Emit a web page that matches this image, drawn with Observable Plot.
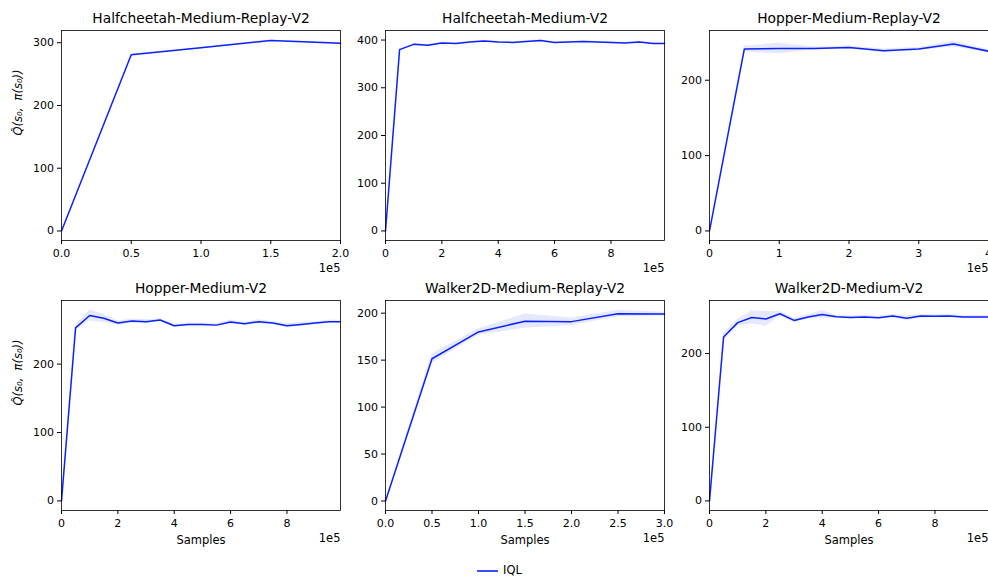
<!DOCTYPE html>
<html><head><meta charset="utf-8">
<script src="https://cdn.jsdelivr.net/npm/d3@7"></script>
<script src="https://cdn.jsdelivr.net/npm/@observablehq/plot@0.6"></script>
<style>
html,body{margin:0;padding:0;background:#fff;overflow:hidden}
#fig{position:relative;width:988px;height:577px;overflow:hidden;background:#fff;font-family:"DejaVu Sans",sans-serif}
.panel{position:absolute}
#legend{position:absolute;left:470px;top:565px;height:11px;line-height:11px;display:flex;align-items:center;font-size:11.5px;color:#000}
</style>
</head><body>
<div id="fig"><div id="legend"><svg width="30" height="11"><line x1="7" x2="28" y1="6" y2="6" stroke="#0a22ff" stroke-width="1.6"/></svg><span style="margin-left:3px">IQL</span></div></div>
<script>
// ---------- data (samples, mean Q estimate, half-width of shaded band) ----------
const titles = ["Halfcheetah-Medium-Replay-V2","Halfcheetah-Medium-V2","Hopper-Medium-Replay-V2",
                "Hopper-Medium-V2","Walker2D-Medium-Replay-V2","Walker2D-Medium-V2"];

const hcmrX = [0,50000,100000,150000,200000];
const hcmrY = [0,281,292,303.5,299];
const hcmrS = [0,1,1,1,1];

const hcmX = [0,50000,100000,150000,200000,250000,300000,350000,400000,450000,500000,550000,600000,650000,700000,750000,800000,850000,900000,950000,990000];
const hcmY = [0,380,391,389,394,393,396,398,396,395,397,399,395,396,397,396,395,394,396,393,393];
const hcmS = [0,2,2,2,1.5,1.5,1.5,1.5,1.5,1.5,1.5,1.5,1.5,1.5,1.5,1.5,1.5,1.5,1.5,1.5,1.5];

const hmrX = [0,50000,100000,150000,200000,250000,300000,350000,400000];
const hmrY = [0,241.5,242,242,243.5,239,241.5,248,238.5];
const hmrS = [0,4,7,2,2,2.5,2,4,2];

const hmX = [0,50000,100000,150000,200000,250000,300000,350000,400000,450000,500000,550000,600000,650000,700000,750000,800000,850000,900000,950000,990000];
const hmY = [0,253,271,267,260,263,262,264.5,256,258,258,257,261.5,259,262,260,256,258,260,262,262];
const hmS = [0,3,8,6,3,3,3,2,2,2,2,2,3,2,3,2,3,3,2,2,2];

const wmrX = [0,50000,100000,150000,200000,250000,300000];
const wmrY = [0,151.5,180,191.5,191,199.5,199];
const wmrS = [0,5,3.5,7.5,4,3.5,2];

const wmX = [0,50000,100000,150000,200000,250000,300000,350000,400000,450000,500000,550000,600000,650000,700000,750000,800000,850000,900000,950000,990000];
const wmY = [0,222.5,242,249,247,254,245,249.5,253,250,249,249.5,248.5,251,248,251,250.5,251,249.5,249.5,249.5];
const wmS = [0,5,4.5,9,10,3,3,3,5,2,2,2,2,2,3,2,2,2,2,2,2];

const xTicksA = [0,50000,100000,150000,200000];
const xTicksB = [0,200000,400000,600000,800000];
const xTicksC = [0,100000,200000,300000,400000];
const xTicksD = [0,50000,100000,150000,200000,250000,300000];
const yTicks1 = [0,100,200,300];
const yTicks2 = [0,100,200,300,400];
const yTicks3 = [0,100,200];
const yTicks5 = [0,50,100,150,200];

const yLabel = "Q\u0302(s\u2080,  \u03C0(s\u2080))";
const xLabel = "Samples";
const offsetLabel = "1e5";

// ---------- layout ----------
const BLUE = "#0a22ff";
const AX_W = 279, AX_H = 210;
const ML = 55, MR = 30, MT = 32, MB = 45;
const colLeft = [61, 384.5, 708.5];
const rowTop = [29.5, 300];

const fmt1 = d => (d/1e5).toFixed(1);
const fmt0 = d => String(d/1e5);

const panels = [
  {x:hcmrX,y:hcmrY,s:hcmrS,xmax:200000,ydom:[-15.2,319.5],xt:xTicksA,yt:yTicks1,xf:fmt1},
  {x:hcmX,y:hcmY,s:hcmS,xmax:990000,ydom:[-20,420],xt:xTicksB,yt:yTicks2,xf:fmt0},
  {x:hmrX,y:hmrY,s:hmrS,xmax:400000,ydom:[-12.7,266],xt:xTicksC,yt:yTicks3,xf:fmt0},
  {x:hmX,y:hmY,s:hmS,xmax:990000,ydom:[-14,293],xt:xTicksB,yt:yTicks3,xf:fmt0},
  {x:wmrX,y:wmrY,s:wmrS,xmax:300000,ydom:[-10.1,213.5],xt:xTicksD,yt:yTicks5,xf:fmt1},
  {x:wmX,y:wmY,s:wmS,xmax:990000,ydom:[-13,272],xt:xTicksB,yt:yTicks3,xf:fmt0}
];

const fig = document.getElementById("fig");
panels.forEach((p, i) => {
  const row = Math.floor(i/3), col = i%3;
  const rows = p.x.map((x, k) => ({x, y:p.y[k], lo:p.y[k]-p.s[k], hi:p.y[k]+p.s[k]}));
  const marks = [
    Plot.areaY(rows, {x:"x", y1:"lo", y2:"hi", fill:BLUE, fillOpacity:0.1}),
    Plot.lineY(rows, {x:"x", y:"y", stroke:BLUE, strokeWidth:1.5}),
    Plot.frame({stroke:"#000", strokeWidth:0.8}),
    Plot.text([titles[i]], {text:d=>d, frameAnchor:"top", lineAnchor:"middle", dy:-12, fontSize:13.8, fill:"#000"}),
    Plot.text([offsetLabel], {text:d=>d, frameAnchor:"bottom-right", lineAnchor:"middle", dy:28, textAnchor:"end", fontSize:11.5, fill:"#000"})
  ];
  if (row === 1) marks.push(Plot.text([xLabel], {text:d=>d, frameAnchor:"bottom", lineAnchor:"middle", dy:29.5, fontSize:11.5, fill:"#000"}));
  if (col === 0) marks.push(Plot.text([yLabel], {text:d=>d, frameAnchor:"left", dx:-43, rotate:-90, fontSize:11.5, fontStyle:"italic", fill:"#000"}));
  const chart = Plot.plot({
    width: ML+AX_W+MR, height: MT+AX_H+MB,
    marginLeft: ML, marginRight: MR, marginTop: MT, marginBottom: MB,
    style: {fontFamily:"DejaVu Sans", fontSize:"11px", color:"#000", background:"transparent", overflow:"visible"},
    x: {domain:[0,p.xmax], ticks:p.xt, tickFormat:p.xf, tickSize:4, tickPadding:4.5, label:null},
    y: {domain:p.ydom, ticks:p.yt, tickFormat:d=>String(d), tickSize:4, tickPadding:3.5, label:null},
    marks
  });
  chart.classList.add("panel");
  chart.style.left = (colLeft[col]-ML) + "px";
  chart.style.top = (rowTop[row]-MT) + "px";
  chart.style.position = "absolute";
  fig.appendChild(chart);
});
</script>
</body></html>
